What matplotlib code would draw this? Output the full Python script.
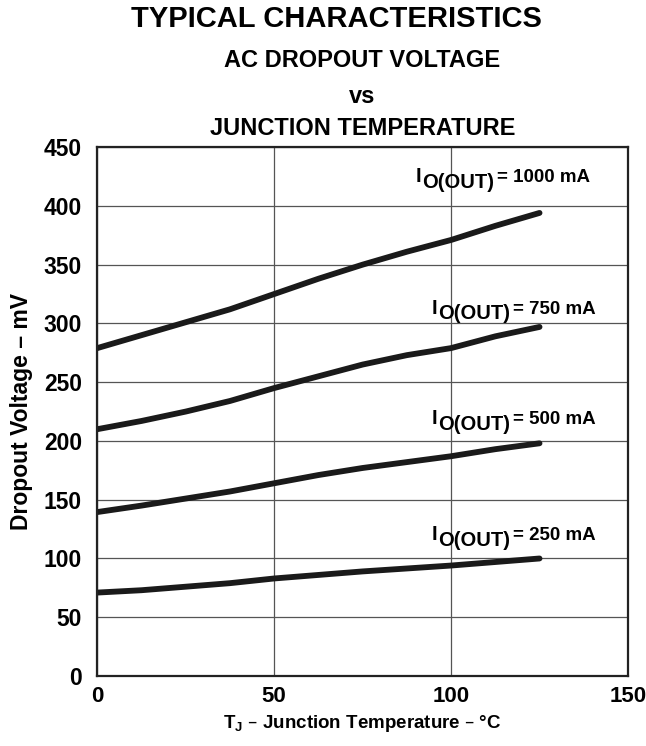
import matplotlib.pyplot as plt

plt.rcParams["font.family"] = ["Liberation Sans", "DejaVu Sans"]
plt.rcParams["font.weight"] = "bold"

# junction temperature (°C)
temp = [0, 12.5, 25, 37.5, 50, 62.5, 75, 87.5, 100, 112.5, 125]
# AC dropout voltage (mV) per output current
drop_1000 = [279, 290, 301, 312, 325, 338, 350, 361, 371, 383, 394]
drop_750 = [210, 217, 225, 234, 245, 255, 265, 273, 279, 289, 297]
drop_500 = [139.5, 145, 151, 157, 164, 171, 177, 182, 187, 193, 198]
drop_250 = [71, 73, 76, 79, 83, 86, 89, 91.5, 94, 97, 100]

curves = [
    (drop_1000, "1000", 425),
    (drop_750, "750", 313),
    (drop_500, "500", 219),
    (drop_250, "250", 120),
]
label_x = [90, 94.5, 94.5, 94.5]

fig = plt.figure(figsize=(6.46, 7.46), dpi=100)
ax = fig.add_axes([0.1506, 0.0938, 0.8215, 0.709])

for (vals, cur, ly), lx in zip(curves, label_x):
    ax.plot(temp, vals, color="#1a1a1a", lw=4.2, solid_capstyle="round")
    t1 = ax.text(lx, ly, "I", fontsize=14.5, va="center", ha="left")
    t2 = ax.annotate("O(OUT)", xy=(1, 0), xycoords=t1, xytext=(0.5, -4),
                     textcoords="offset points", fontsize=14.5,
                     va="bottom", ha="left")
    ax.annotate(f"= {cur} mA", xy=(1, 0), xycoords=t2, xytext=(2, 4),
                textcoords="offset points", fontsize=13.5,
                va="bottom", ha="left")

ax.set_xlim(0, 150)
ax.set_ylim(0, 450)
ax.set_xticks([0, 50, 100, 150])
ax.set_yticks(range(0, 451, 50))
ax.tick_params(axis="x", length=0, labelsize=16, pad=7)
ax.tick_params(axis="y", length=0, labelsize=16.5, pad=11)
for lab in ax.get_xticklabels() + ax.get_yticklabels():
    lab.set_fontweight("bold")
ax.grid(True, color="#555555", lw=0.9)
for s in ax.spines.values():
    s.set_linewidth(1.6)
    s.set_color("#222222")

ax.set_ylabel("Dropout Voltage – mV", fontsize=16.5, fontweight="bold",
              labelpad=8)
fig.text(0.521, 0.974, "TYPICAL CHARACTERISTICS", ha="center", va="center",
         fontsize=21, fontweight="bold")
fig.text(0.561, 0.919, "AC DROPOUT VOLTAGE", ha="center", va="center",
         fontsize=17, fontweight="bold")
fig.text(0.561, 0.871, "vs", ha="center", va="center",
         fontsize=17, fontweight="bold")
fig.text(0.561, 0.828, "JUNCTION TEMPERATURE", ha="center", va="center",
         fontsize=17, fontweight="bold")
fig.text(0.561, 0.030, r"T$_\mathregular{J}$ – Junction Temperature – °C",
         ha="center", va="center", fontsize=13.5, fontweight="bold")

fig.savefig("out.png", dpi=100)
